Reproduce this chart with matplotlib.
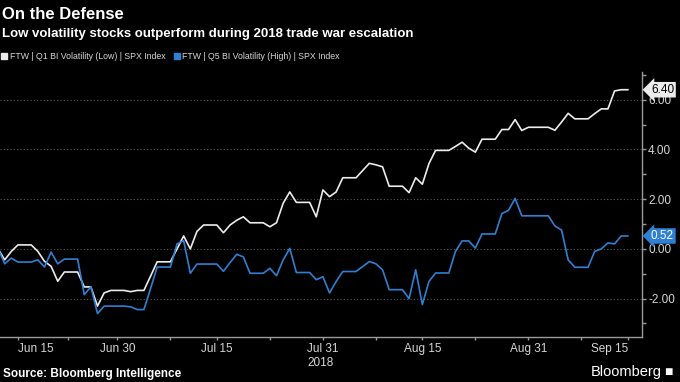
import matplotlib
matplotlib.use("Agg")
import matplotlib.pyplot as plt
import matplotlib.dates as mdates
import matplotlib.transforms as mtransforms
from matplotlib.lines import Line2D
from matplotlib.ticker import FixedLocator, FormatStrFormatter
import pandas as pd

plt.rcParams['font.family'] = ['Liberation Sans', 'DejaVu Sans']

# daily values, Jun 12 - Sep 15 2018 (weekends carry the Friday value)
dates = pd.date_range('2018-06-12', '2018-09-15', freq='D')

low_vol = [0.00, -0.44, -0.10, 0.16, 0.16, 0.16,                      # Jun 12-17
           -0.10, -0.50, -0.70, -1.30, -0.93, -0.93, -0.93,           # Jun 18-24
           -1.53, -1.53, -2.30, -1.77, -1.67, -1.67, -1.67,           # Jun 25-Jul 1
           -1.72, -1.67, -1.67, -1.10, -0.52, -0.52, -0.52,           # Jul 2-8
           0.00, 0.52, 0.00, 0.70, 0.96, 0.96, 0.96,                  # Jul 9-15
           0.65, 0.96, 1.15, 1.29, 1.05, 1.05, 1.05,                  # Jul 16-22
           0.89, 1.05, 1.83, 2.29, 1.87, 1.87, 1.87,                  # Jul 23-29
           1.29, 2.37, 2.10, 2.29, 2.86, 2.86, 2.86,                  # Jul 30-Aug 5
           3.15, 3.44, 3.38, 3.30, 2.52, 2.52, 2.52,                  # Aug 6-12
           2.26, 2.86, 2.60, 3.43, 3.96, 3.96, 3.96,                  # Aug 13-19
           4.12, 4.29, 4.05, 3.89, 4.41, 4.41, 4.41,                  # Aug 20-26
           4.80, 4.80, 5.20, 4.76, 4.89, 4.89, 4.89,                  # Aug 27-Sep 2
           4.89, 4.77, 5.10, 5.45, 5.23, 5.23, 5.23,                  # Sep 3-9
           5.44, 5.63, 5.63, 6.35, 6.40, 6.40]                        # Sep 10-15

high_vol = [0.00, -0.60, -0.37, -0.53, -0.53, -0.53,
            -0.44, -0.73, -0.13, -0.60, -0.41, -0.41, -0.41,
            -1.84, -1.53, -2.60, -2.30, -2.30, -2.30, -2.30,
            -2.33, -2.44, -2.44, -1.60, -0.73, -0.73, -0.73,
            0.20, 0.33, -0.98, -0.61, -0.61, -0.61, -0.61,
            -0.90, -0.55, -0.22, -0.32, -0.98, -0.98, -0.98,
            -0.78, -1.08, -0.45, 0.02, -0.95, -0.95, -0.95,
            -1.24, -1.12, -1.77, -1.31, -0.91, -0.91, -0.91,
            -0.71, -0.51, -0.60, -0.84, -1.64, -1.64, -1.64,
            -2.00, -0.84, -2.24, -1.31, -0.97, -0.97, -0.97,
            -0.10, 0.32, 0.32, 0.03, 0.60, 0.60, 0.60,
            1.42, 1.55, 2.03, 1.33, 1.33, 1.33, 1.33,
            1.33, 0.92, 0.76, -0.44, -0.74, -0.74, -0.74,
            -0.10, 0.00, 0.24, 0.20, 0.52, 0.52]

labels = ['FTW | Q1 BI Volatility (Low) | SPX Index',
          'FTW | Q5 BI Volatility (High) | SPX Index']
tick_dates = ['2018-06-15', '2018-06-30', '2018-07-15', '2018-07-31',
              '2018-08-15', '2018-08-31', '2018-09-15']
tick_text = ['Jun 15', 'Jun 30', 'Jul 15', 'Jul 31\n2018', 'Aug 15', 'Aug 31', 'Sep 15']
minor_dates = ['2018-06-22 12:00', '2018-07-08', '2018-07-23', '2018-08-08',
               '2018-08-23', '2018-09-08']

white = '#ececec'
blue = '#2f80d3'
grey = '#d6d6d6'

fig = plt.figure(figsize=(6.8, 3.82), dpi=100, facecolor='black')
ax = fig.add_axes([0.0, 0.118, 0.944, 0.694], facecolor='black')

ax.plot(dates, low_vol, color=white, lw=1.2)
ax.plot(dates, high_vol, color=blue, lw=1.2)

ax.set_xlim(pd.Timestamp('2018-06-12 07:00'), pd.Timestamp('2018-09-17 03:00'))
ax.set_ylim(-3.54, 7.12)

# axes styling
for s in ['top', 'left']:
    ax.spines[s].set_visible(False)
for s in ['bottom', 'right']:
    ax.spines[s].set_color('#9a9a9a')
    ax.spines[s].set_linewidth(1.0)

ax.yaxis.tick_right()
ax.yaxis.set_major_locator(FixedLocator([-2, 0, 2, 4, 6]))
ax.yaxis.set_minor_locator(FixedLocator([-3, -1, 1, 3, 5, 7]))
ax.yaxis.set_major_formatter(FormatStrFormatter('%.2f'))
ax.tick_params(axis='y', which='both', colors='#9a9a9a', labelcolor=grey,
               labelsize=8.5, length=3, width=1, pad=1.5)
ax.grid(axis='y', which='major', color='#5a5a5a', linestyle=(0, (1, 2)), lw=0.8)

ax.set_xticks([pd.Timestamp(d) for d in tick_dates])
ax.set_xticklabels(tick_text)
ax.xaxis.set_minor_locator(FixedLocator([mdates.date2num(pd.Timestamp(d)) for d in minor_dates]))
ax.tick_params(axis='x', which='both', colors='#9a9a9a', labelcolor=grey,
               labelsize=8.5, length=2.5, width=1, pad=2)
xl = ax.get_xticklabels()
xl[0].set_ha('left')
xl[-1].set_ha('right')
xl[3].set_multialignment('left')

# last value tags
trans = mtransforms.blended_transform_factory(ax.transAxes, ax.transData)
ax.text(1.014, low_vol[-1], '%.2f' % low_vol[-1], transform=trans, ha='left', va='center',
        fontsize=8.5, color='black', clip_on=False,
        bbox=dict(boxstyle='larrow,pad=0.15', fc=white, ec='none'))
ax.text(1.014, high_vol[-1], '%.2f' % high_vol[-1], transform=trans, ha='left', va='center',
        fontsize=8.5, color='white', clip_on=False,
        bbox=dict(boxstyle='larrow,pad=0.15', fc=blue, ec='none'))

# titles
fig.text(0.003, 0.962, 'On the Defense', color='white', fontsize=12, fontweight='bold', va='center')
fig.text(0.003, 0.912, 'Low volatility stocks outperform during 2018 trade war escalation',
         color='white', fontsize=9.5, fontweight='bold', va='center')

handles = [Line2D([], [], ls='none', marker='s', ms=4.5, color=white),
           Line2D([], [], ls='none', marker='s', ms=4.5, color=blue)]
fig.legend(handles, labels, loc='center left', bbox_to_anchor=(0.0, 0.851), ncol=2,
           frameon=False, fontsize=6.3, labelcolor=grey, handlelength=0.6,
           handletextpad=0.3, columnspacing=1.0, borderaxespad=0, borderpad=0.2)

fig.text(0.005, 0.021, 'Source: Bloomberg Intelligence', color='white', fontsize=8.5,
         fontweight='bold', va='center')
fig.text(0.973, 0.026, 'Bloomberg', color='white', fontsize=10.5, ha='right', va='center')
fig.text(0.977, 0.026, '\u25a0', color='white', fontsize=10, ha='left', va='center')

fig.savefig('out.png', dpi=100, facecolor='black')
